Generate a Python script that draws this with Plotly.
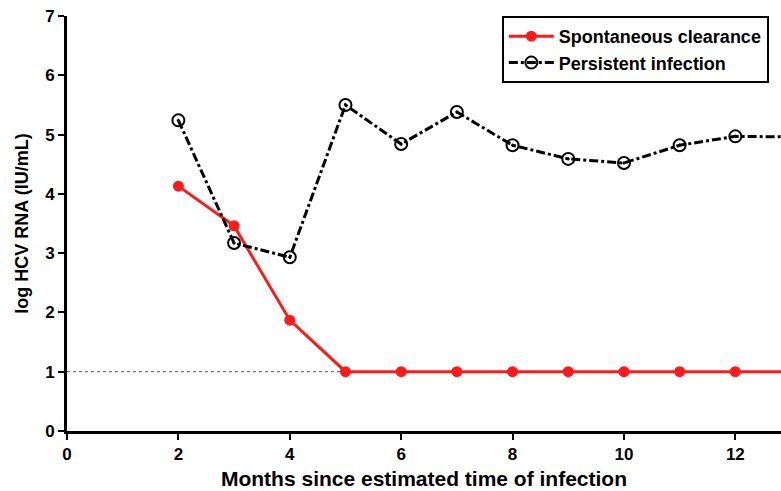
import plotly.graph_objects as go

months = [2, 3, 4, 5, 6, 7, 8, 9, 10, 11, 12, 13]
spontaneous = [4.13, 3.46, 1.87, 1.0, 1.0, 1.0, 1.0, 1.0, 1.0, 1.0, 1.0, 1.0]
persistent = [5.24, 3.17, 2.93, 5.50, 4.84, 5.38, 4.82, 4.59, 4.52, 4.82, 4.97, 4.96]
x_ticks = [0, 2, 4, 6, 8, 10, 12]
y_ticks = [0, 1, 2, 3, 4, 5, 6, 7]
detection_limit = 1.0

font_family = "Liberation Sans, Arial, sans-serif"

fig = go.Figure()
fig.add_shape(type="line", xref="paper", yref="y", x0=0, x1=1,
              y0=detection_limit, y1=detection_limit,
              line=dict(color="#555555", width=1, dash="dot"), layer="below")

fig.add_trace(go.Scatter(
    x=months, y=spontaneous, mode="lines+markers", name="Spontaneous clearance",
    line=dict(color="#ff1a1a", width=3),
    marker=dict(color="#ff1a1a", size=11, symbol="circle"),
    cliponaxis=True))
fig.add_trace(go.Scatter(
    x=months, y=persistent, mode="lines+markers", name="Persistent infection",
    line=dict(color="black", width=3, dash="dashdot"),
    marker=dict(color="black", size=12, symbol="circle-open-dot", line=dict(width=2)),
    cliponaxis=True))

fig.update_layout(
    width=781, height=491,
    margin=dict(l=67, r=0, t=16, b=60, autoexpand=False),
    plot_bgcolor="white", paper_bgcolor="white",
    font=dict(family=font_family, color="black", size=15),
    legend=dict(x=0.609, y=1.0, xanchor="left", yanchor="top",
                bordercolor="black", borderwidth=2, bgcolor="white",
                font=dict(size=18, family=font_family, weight="bold"),
                itemwidth=45, tracegroupgap=0),
    xaxis=dict(range=[0, 12.82], tickvals=x_ticks, showgrid=False, zeroline=False,
               showline=True, linecolor="black", linewidth=3, automargin=False,
               ticks="outside", ticklen=6, tickwidth=2, tickcolor="black",
               tickfont=dict(size=17, weight="bold"),
               title=dict(text="<b>Months since estimated time of infection</b>",
                          font=dict(size=21), standoff=8)),
    yaxis=dict(range=[0, 7], tickvals=y_ticks, showgrid=False, zeroline=False,
               showline=True, linecolor="black", linewidth=3, automargin=False,
               ticks="outside", ticklen=6, tickwidth=2, tickcolor="black",
               tickfont=dict(size=17, weight="bold"),
               title=dict(text="<b>log HCV RNA (IU/mL)</b>", font=dict(size=18), standoff=12)),
)

fig.write_html("out.html", config={"displayModeBar": False},
               post_script="document.body.style.margin='0';document.body.style.overflow='hidden';")
